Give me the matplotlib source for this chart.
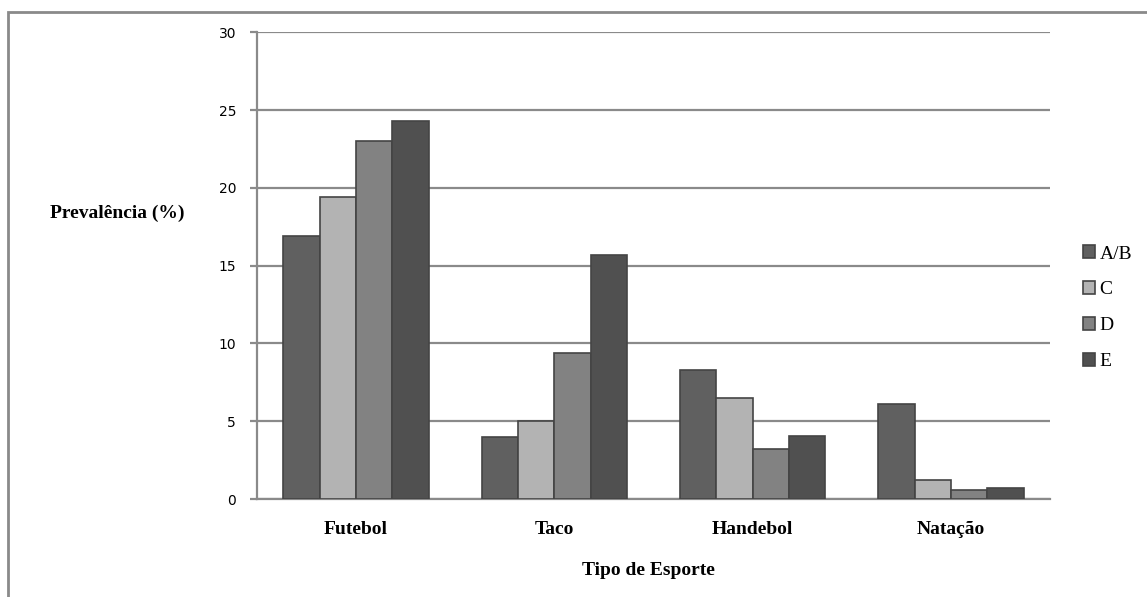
import numpy as np
import matplotlib.pyplot as plt
from matplotlib.patches import Rectangle

# data
sports = ['Futebol', 'Taco', 'Handebol', 'Natação']
groups = ['A/B', 'C', 'D', 'E']
ab = [16.9, 4.0, 8.3, 6.1]
c = [19.4, 5.0, 6.5, 1.2]
d = [23.0, 9.4, 3.25, 0.6]
e = [24.3, 15.7, 4.05, 0.7]
series = [ab, c, d, e]
colors = ['#606060', '#b3b3b3', '#828282', '#505050']

fig = plt.figure(figsize=(11.47, 5.97), dpi=100)
ax = fig.add_axes([0.224, 0.164, 0.6915, 0.782])

x = np.arange(len(sports))
w = 0.183
for i, (vals, col) in enumerate(zip(series, colors)):
    ax.bar(x + (i - 1.5) * w, vals, w, color=col, edgecolor='#444444',
           linewidth=1.2, label=groups[i], zorder=3)

ax.set_ylim(0, 30)
ax.set_xlim(-0.5, 3.5)
ax.set_yticks(range(0, 31, 5))
ax.yaxis.grid(True, color='#8a8a8a', linewidth=1.6, zorder=0)
for s in ['top', 'right']:
    ax.spines[s].set_visible(False)
for s in ['left', 'bottom']:
    ax.spines[s].set_color('#8a8a8a')
    ax.spines[s].set_linewidth(1.6)
ax.tick_params(axis='y', colors='#8a8a8a', width=1.6, length=5, pad=10,
               labelcolor='black', labelsize=10)
ax.tick_params(axis='x', length=0, pad=16)
ax.set_xticks(x)
ax.set_xticklabels(sports, family='Liberation Serif', fontweight='bold',
                   fontsize=14)
for t in ax.get_yticklabels():
    t.set_family('DejaVu Sans')

fig.text(0.102, 0.643, 'Prevalência (%)', family='Liberation Serif',
         fontweight='bold', fontsize=14, ha='center', va='center')
fig.text(0.565, 0.044, 'Tipo de Esporte', family='Liberation Serif',
         fontweight='bold', fontsize=14, ha='center', va='center')

leg = ax.legend(loc='center left', bbox_to_anchor=(1.029, 0.41), frameon=False,
                prop={'family': 'Liberation Serif', 'size': 14},
                handlelength=0.65, handleheight=0.65, handletextpad=0.2,
                labelspacing=0.95, borderpad=0)

fig.patches.append(Rectangle((0.007, -0.1), 1.2, 1.08, transform=fig.transFigure,
                             fill=False, edgecolor='#8a8a8a', linewidth=2))

fig.savefig('out.png', dpi=100)
